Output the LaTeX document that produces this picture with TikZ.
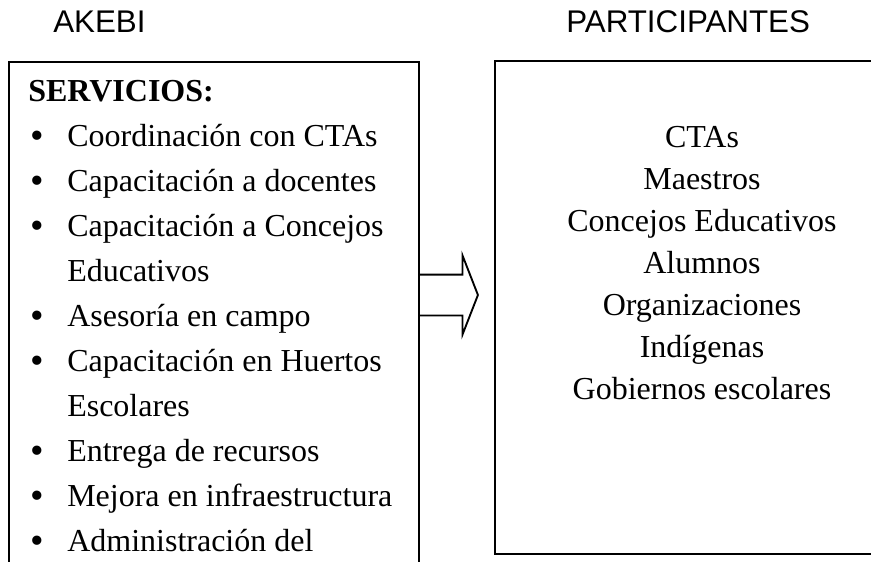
\documentclass[tikz,border=0pt]{standalone}
\usepackage{fontspec}
\setmainfont{Liberation Serif}
\setsansfont{Liberation Sans}
\usetikzlibrary{shapes.arrows}
\tikzset{
  heading/.style   = {font=\sffamily\fontsize{23.5}{28}\selectfont,
                      inner sep=0pt, anchor=base west},
  panel/.style     = {draw, line width=1.4pt, inner sep=0pt, anchor=north west},
  listing/.style   = {font=\fontsize{24}{33.75}\selectfont, inner sep=0pt},
  centred/.style   = {font=\fontsize{24}{31.5}\selectfont, inner sep=0pt},
  flowarrow/.style = {draw, single arrow, line width=1.4pt, anchor=tail,
                      inner xsep=0pt, inner ysep=14.625pt,
                      single arrow head extend=14.25pt,
                      single arrow tip angle=137.4,
                      minimum width=57.75pt, minimum height=44.25pt},
}
\newcommand{\svcbullet}{\makebox[29.25pt][l]{\hspace{2pt}%
  \raisebox{-1.5pt}{\fontsize{29}{29}\selectfont\textbullet}}}

\begin{document}
\begin{tikzpicture}[x=0.75pt, y=-0.75pt]
  \useasboundingbox (0,0) rectangle (871,561);
  \node[heading] (tleft)  at (53,32)  {AKEBI};
  \node[heading] (tright) at (566,32) {PARTICIPANTES};
  \node[panel, minimum width=307.5pt, minimum height=404pt]    (akebi) at (8,61)  {};
  \node[panel, minimum width=286.5pt, minimum height=369.75pt] (part)  at (494,60) {};
  \node[listing, anchor=north west] (servicios) at (28,69.5) {%
    \begin{tabular}{@{}l@{}l@{}}
      \multicolumn{2}{@{}l@{}}{\textbf{SERVICIOS:}}\\
      \svcbullet & Coordinación con CTAs\\
      \svcbullet & Capacitación a docentes\\
      \svcbullet & Capacitación a Concejos\\
                 & Educativos\\
      \svcbullet & Asesoría en campo\\
      \svcbullet & Capacitación en Huertos\\
                 & Escolares\\
      \svcbullet & Entrega de recursos\\
      \svcbullet & Mejora en infraestructura\\
      \svcbullet & Administración del
    \end{tabular}};
  \node[centred, anchor=north] (gente) at (702,117.6) {%
    \begin{tabular}{@{}c@{}}
      CTAs\\
      Maestros\\
      Concejos Educativos\\
      Alumnos\\
      Organizaciones\\
      Indígenas\\
      Gobiernos escolares
    \end{tabular}};
  \node[flowarrow] (hacia) at (418,295) {};
\end{tikzpicture}
\end{document}
